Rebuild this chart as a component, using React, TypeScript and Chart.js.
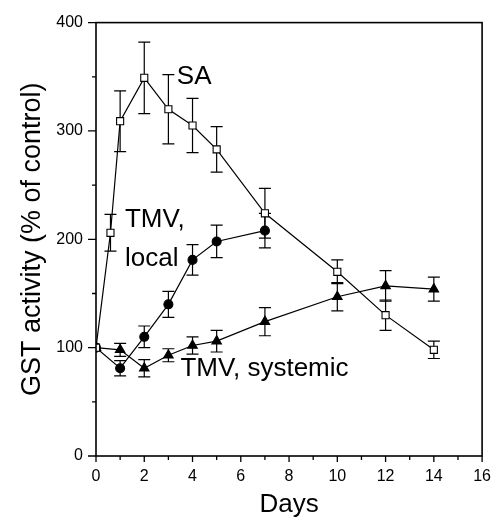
import React, { useEffect, useRef } from "react";
import { Chart, registerables } from "chart.js";

Chart.register(...registerables);

const saDays = [0, 0.6, 1, 2, 3, 4, 5, 7, 10, 12, 14];
const saVals = [100, 206, 309, 349, 320, 305, 283, 224, 170, 130, 98];
const saErr = [0, 17, 28, 33, 32, 25, 21, 23, 11, 14, 8];

const localDays = [0, 1, 2, 3, 4, 5, 7];
const localVals = [100, 81, 110, 140, 181, 198, 208];
const localErr = [0, 7, 10, 12, 14, 15, 16];

const sysDays = [0, 1, 2, 3, 4, 5, 7, 10, 12, 14];
const sysVals = [100, 98, 81, 93, 102, 106, 124, 147, 157, 154];
const sysErr = [0, 6, 8, 6, 8, 10, 13, 13, 14, 11];

const xTickLabels = ["0", "2", "4", "6", "8", "10", "12", "14", "16"];
const yTickLabels = ["0", "100", "200", "300", "400"];

const annotations = [
  { text: "SA", x: 3.35, y: 350 },
  { text: "TMV,", x: 1.2, y: 218 },
  { text: "local", x: 1.2, y: 182 },
  { text: "TMV, systemic", x: 3.5, y: 80 },
];

const FONT = "'Liberation Sans', Arial, Helvetica, sans-serif";

function toPts(xs: number[], ys: number[]) {
  return xs.map((x, i) => ({ x, y: ys[i] }));
}

const errorBarPlugin = {
  id: "errorBars",
  beforeDatasetsDraw(chart: any) {
    const ctx = chart.ctx;
    const xs = chart.scales.x;
    const ys = chart.scales.y;
    const sets = [
      [saDays, saVals, saErr],
      [localDays, localVals, localErr],
      [sysDays, sysVals, sysErr],
    ];
    ctx.save();
    ctx.strokeStyle = "#000";
    ctx.lineWidth = 1.2;
    for (const [d, v, e] of sets) {
      d.forEach((day: number, i: number) => {
        if (!e[i]) return;
        const px = xs.getPixelForValue(day);
        const top = ys.getPixelForValue(v[i] + e[i]);
        const bot = ys.getPixelForValue(v[i] - e[i]);
        const cap = 6;
        ctx.beginPath();
        ctx.moveTo(px, top);
        ctx.lineTo(px, bot);
        ctx.moveTo(px - cap, top);
        ctx.lineTo(px + cap, top);
        ctx.moveTo(px - cap, bot);
        ctx.lineTo(px + cap, bot);
        ctx.stroke();
      });
    }
    ctx.restore();
  },
  afterDraw(chart: any) {
    const ctx = chart.ctx;
    const xs = chart.scales.x;
    const ys = chart.scales.y;
    const a = chart.chartArea;
    ctx.save();
    ctx.strokeStyle = "#000";
    ctx.lineWidth = 1.6;
    ctx.strokeRect(a.left, a.top, a.right - a.left, a.bottom - a.top);
    ctx.lineWidth = 1.3;
    ctx.beginPath();
    xs.ticks.forEach((t: any) => {
      const px = xs.getPixelForValue(t.value);
      const len = t.value % 2 === 0 ? 6 : 4;
      ctx.moveTo(px, a.bottom);
      ctx.lineTo(px, a.bottom + len);
    });
    ys.ticks.forEach((t: any) => {
      const py = ys.getPixelForValue(t.value);
      const len = t.value % 100 === 0 ? 8 : 4;
      ctx.moveTo(a.left - len, py);
      ctx.lineTo(a.left, py);
    });
    ctx.stroke();
    ctx.fillStyle = "#000";
    ctx.font = `26px ${FONT}`;
    ctx.textAlign = "left";
    ctx.textBaseline = "middle";
    for (const an of annotations) {
      ctx.fillText(an.text, xs.getPixelForValue(an.x), ys.getPixelForValue(an.y));
    }
    ctx.restore();
  },
};

export default function App() {
  const ref = useRef<HTMLCanvasElement | null>(null);
  useEffect(() => {
    if (!ref.current) return;
    const lineCommon = {
      borderColor: "#000",
      borderWidth: 1.2,
      pointBorderColor: "#000",
      pointBorderWidth: 1.1,
      showLine: true,
      tension: 0,
    };
    const chart = new Chart(ref.current, {
      type: "scatter",
      data: {
        datasets: [
          {
            ...lineCommon,
            label: "SA",
            data: toPts(saDays, saVals),
            pointStyle: "rect",
            pointRadius: 5,
            pointBackgroundColor: "#fff",
            order: 1,
          },
          {
            ...lineCommon,
            label: "TMV, local",
            data: toPts(localDays, localVals),
            pointStyle: "circle",
            pointRadius: 4.5,
            pointBackgroundColor: "#000",
            order: 2,
          },
          {
            ...lineCommon,
            label: "TMV, systemic",
            data: toPts(sysDays, sysVals),
            pointStyle: "triangle",
            pointRadius: 5.5,
            pointBackgroundColor: "#000",
            order: 3,
          },
        ],
      },
      options: {
        animation: false,
        responsive: false,
        devicePixelRatio: 1,
        layout: { padding: { top: 20, right: 12, left: 0, bottom: 0 } },
        plugins: { legend: { display: false }, tooltip: { enabled: false } },
        scales: {
          x: {
            type: "linear",
            min: 0,
            max: 16,
            afterFit(scale: any) {
              scale.height = 69;
            },
            ticks: {
              stepSize: 1,
              padding: 11,
              color: "#000",
              font: { family: FONT, size: 16 },
              maxRotation: 0,
              autoSkip: false,
              callback: (v: any) => (xTickLabels.includes(String(v)) ? String(v) : ""),
            },
            grid: { display: false, drawTicks: false },
            border: { display: false },
            title: {
              display: true,
              text: "Days",
              color: "#000",
              font: { family: FONT, size: 26 },
              padding: { top: 0, bottom: 5 },
            },
          },
          y: {
            type: "linear",
            min: 0,
            max: 400,
            afterFit(scale: any) {
              scale.width = 96;
            },
            ticks: {
              stepSize: 50,
              padding: 13,
              color: "#000",
              font: { family: FONT, size: 16 },
              autoSkip: false,
              callback: (v: any) => (yTickLabels.includes(String(v)) ? String(v) : ""),
            },
            grid: { display: false, drawTicks: false },
            border: { display: false },
            title: {
              display: true,
              text: "GST activity (% of control)",
              color: "#000",
              font: { family: FONT, size: 27 },
              padding: { top: 16, bottom: 0 },
            },
          },
        },
      },
      plugins: [errorBarPlugin],
    });
    return () => chart.destroy();
  }, []);
  return (
    <div style={{ position: "absolute", left: 0, top: 0, width: 502, height: 525 }}>
      <canvas ref={ref} width={502} height={525} />
    </div>
  );
}
